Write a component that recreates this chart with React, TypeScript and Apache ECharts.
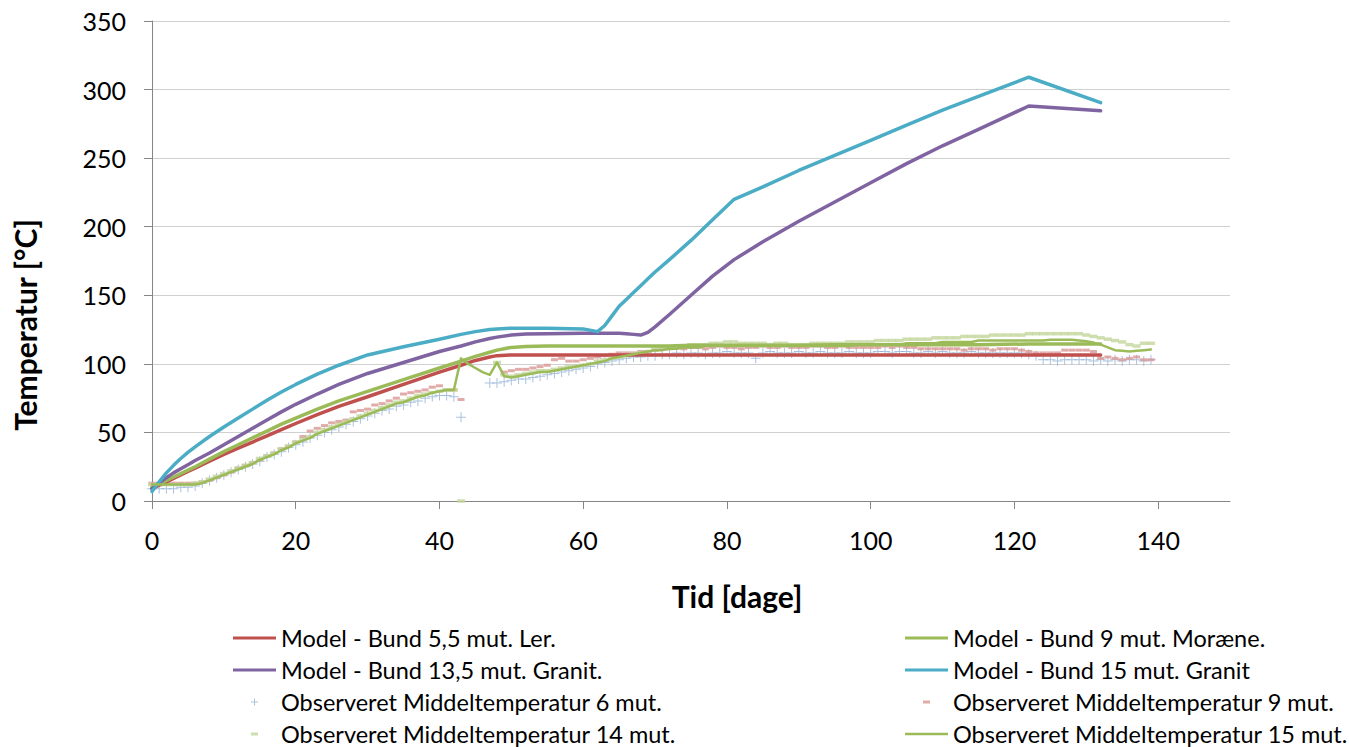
import React, { useEffect, useRef } from "react";
import * as echarts from "echarts";

const xTicks = [0, 20, 40, 60, 80, 100, 120, 140];

const seriesNames = [
  "Model - Bund 5,5 mut. Ler.",
  "Model - Bund 9 mut. Moræne.",
  "Model - Bund 13,5 mut. Granit.",
  "Model - Bund 15 mut. Granit",
  "Observeret Middeltemperatur 6 mut.",
  "Observeret Middeltemperatur 9 mut.",
  "Observeret Middeltemperatur 14 mut.",
  "Observeret Middeltemperatur 15 mut.",
];

const modelDays = [0, 1, 2, 3, 4, 5, 6, 8, 10, 12, 14, 16, 18, 20, 23, 26, 30, 35, 40, 43, 45, 47, 48, 50, 52, 55,
  60, 62, 63, 64, 65, 66, 67, 68, 69, 70, 72, 75, 78, 81, 85, 90, 95, 100, 105, 110, 115, 122, 132];

const modelLer55 = [9, 11.5, 14, 16.5, 19, 21.5, 24, 29, 34, 38.5, 43, 47.5, 52, 56.5, 63, 69, 76, 85, 94, 99, 102.5, 105, 106, 106.5, 106.5, 106.5,
  106.5, 106.5, 106.5, 106.5, 106.5, 106.5, 106.5, 106.5, 106.5, 106.5, 106.5, 106.5, 106.5, 106.5, 106.5, 106.5, 106.5, 106.5, 106.5, 106.5, 106.5, 106.5, 106.5];

const modelMoraene9 = [10, 12.5, 15, 17.5, 20, 22.5, 25, 30.5, 36, 41, 46, 51, 56, 60.5, 67, 73, 80, 88.5, 97, 102, 105.5, 108.5, 110, 112, 112.7, 113,
  113, 113, 113, 113, 113, 113, 113, 113, 113, 113, 113, 113.5, 113.5, 113.5, 113.5, 113.5, 114, 114, 114, 114, 114, 114.5, 114.5];

const modelGranit135 = [9, 13, 17, 20.5, 23.5, 26.5, 29.5, 35, 41, 47, 53, 59, 65, 70.5, 78, 85, 93, 101, 109, 113, 116, 118.5, 119.5, 121, 121.7, 122,
  122.3, 122.3, 122.3, 122.3, 122.3, 122, 121.5, 121, 123, 127, 136, 150, 164, 176, 189, 204, 218, 232, 246, 259, 271, 288, 284.5];

const modelGranit15 = [7, 14, 20.5, 26, 31, 35.5, 39.5, 47, 54, 60.5, 67, 73.5, 79.5, 85, 92.5, 99, 106.5, 112.5, 118, 121.5, 123.5, 125, 125.5, 126, 126, 126,
  125.5, 123.5, 128, 135, 142, 147, 152, 157, 162, 167, 176, 190, 205, 220, 229, 241, 252, 263, 274, 285, 295, 309, 290.5];

// observations, one value per day from day 0
const obs6 = [
  9, 9, 9, 9, 10, 10, 11, 13, 15, 17,
  19, 21, 23, 25, 27, 29, 32, 34, 36, 39,
  41, 43, 46, 48, 50, 52, 54, 56, 58, 60,
  62, 64, 66, 67, 69, 70, 72, 73, 75, 76,
  77, 77, 76, 61, null, null, null, 86, 86, 87,
  88, 89, 89, 90, 91, 92, 93, 94, 95, 96,
  97, 98, 100, 101, 102, 103, 104, 105, 105, 106,
  106, 107, 107, 108, 107, 108, 108, 107, 108, 108,
  109, 108, 108, 108, 104, 108, 109, 108, 108, 108,
  109, 108, 108, 109, 108, 108, 108, 109, 108, 108,
  108, 109, 109, 108, 109, 109, 108, 108, 109, 108,
  109, 108, 108, 108, 109, 108, 108, 108, 108, 108,
  108, 108, 107, 106, 103, 103, 102, 103, 103, 103,
  103, 102, 103, 102, 103, 102, 103, 103, 102, 103,
];

const obs9 = [
  13, 13, 13, 13, 13, 13, 13, 14, 15, 17,
  19, 21, 24, 26, 28, 30, 33, 35, 38, 40,
  43, 47, 51, 53, 55, 57, 58, 59, 65, 66,
  67, 70, 71, 73, 75, 78, 79, 80, 81, 83,
  84, 81, 81, 74, null, null, null, null, null, 94,
  95, 96, 96, 97, 98, 99, 103, 104, 102, 102,
  103, 104, 105, 106, 107, 108, 108, 108, 109, 109,
  110, 111, 111, 112, 111, 112, 112, 111, 112, 113,
  112, 112, 111, 112, 112, 113, 112, 112, 113, 112,
  112, 112, 113, 113, 112, 112, 113, 112, 112, 112,
  112, 112, 113, 112, 113, 112, 112, 111, 111, 111,
  111, 111, 111, 110, 111, 111, 111, 110, 111, 111,
  111, 110, 109, 108, 108, 108, 108, 110, 110, 110,
  110, 109, 104, 105, 104, 103, 104, 105, 103, 103,
];

const obs14 = [
  12, 12, 12, 12, 12, 12, 13, 14, 16, 18,
  20, 22, 24, 26, 28, 31, 33, 35, 38, 40,
  43, 45, 47, 50, 52, 54, 56, 58, 60, 62,
  64, 66, 68, 70, 72, 73, 75, 77, 78, 79,
  80, 81, 81, 0, null, null, null, null, 101, 92,
  91, 92, 93, 94, 95, 95, 96, 97, 98, 98,
  99, 100, 102, 103, 104, 105, 106, 107, 108, 109,
  111, 112, 112, 113, 113, 114, 114, 114, 115, 115,
  116, 116, 115, 115, 115, 115, 114, 115, 115, 114,
  114, 114, 115, 115, 115, 115, 115, 116, 116, 116,
  116, 117, 117, 117, 117, 118, 118, 118, 118, 119,
  119, 119, 119, 120, 120, 120, 120, 121, 121, 121,
  121, 121, 122, 122, 122, 122, 122, 122, 122, 122,
  121, 120, 119, 118, 117, 116, 114, 113, 115, 115,
];

const obs15 = [
  12, 12, 12, 12, 12, 12, 12, 13, 15, 17,
  19, 21, 23, 25, 27, 30, 32, 34, 37, 39,
  42, 44, 46, 49, 51, 53, 55, 57, 59, 61,
  63, 65, 67, 69, 71, 72, 74, 76, 77, 79,
  80, 81, 81, 104, 100, 97, 94, 92, 101, 91,
  90, 91, 92, 93, 94, 94, 95, 96, 97, 98,
  99, 100, 101, 102, 104, 105, 106, 107, 108, 109,
  110, 110, 111, 111, 112, 112, 112, 113, 113, 113,
  113, 113, 113, 113, 113, 113, 113, 113, 113, 113,
  113, 113, 113, 113, 113, 113, 113, 113, 114, 114,
  114, 114, 114, 114, 114, 115, 115, 115, 115, 115,
  116, 116, 116, 116, 116, 117, 117, 117, 117, 117,
  117, 117, 117, 117, 117, 117.5, 117.5, 117.5, 117.5, 117,
  116.5, 115.5, 114, 112, 110, 109.5, 109, 109.5, 110, 110.5,
];

const FONT = "Lato";
const plusSymbol = "path://M4.5,0h1v4.5h4.5v1h-4.5v4.5h-1v-4.5h-4.5v-1h4.5z";
const plusLegendIcon = "path://M0,0M43,14M18,6.5h3v-3h1v3h3v1h-3v3h-1v-3h-3z";
const dashLegendIcon = "path://M0,0M43,14M18,5.5h7v3h-7z";
const lineLegendIcon = "path://M0,0M43,14M0,5.5h43v3h-43z";
const thinLineLegendIcon = "path://M0,0M43,14M0,5.75h43v2.5h-43z";

function pairModel(ys: number[]) {
  return modelDays.map((d, i) => [d, ys[i]]);
}
function pairObs(ys: (number | null)[]) {
  return ys.map((v, i) => [i, v === null ? "-" : v]);
}

export default function App() {
  const ref = useRef<HTMLDivElement>(null);
  useEffect(() => {
    document.body.style.margin = "0";
    const chart = echarts.init(ref.current!, null, { renderer: "svg" });
    const lineSeries = (name: string, data: any[], color: string, width: number) => ({
      name,
      type: "line",
      data,
      symbol: "none",
      showSymbol: false,
      lineStyle: { color, width, cap: "round", join: "round" },
      itemStyle: { color },
      connectNulls: false,
    });
    const legendText = { fontFamily: FONT, fontSize: 23.5, color: "#000", lineHeight: 24 };
    const legendBase = {
      top: 626,
      height: 200,
      orient: "vertical",
      itemWidth: 43,
      itemHeight: 14,
      itemGap: 8,
      padding: 0,
      selectedMode: false,
      textStyle: legendText,
    };
    chart.setOption({
      animation: false,
      backgroundColor: "#fff",
      textStyle: { fontFamily: FONT },
      grid: { left: 152, right: 119, top: 21, bottom: 246, containLabel: false },
      xAxis: {
        type: "value",
        min: 0,
        max: 150,
        interval: 20,
        name: "Tid [dage]",
        nameLocation: "middle",
        nameGap: 80,
        nameTextStyle: { fontFamily: FONT, fontSize: 30, fontWeight: "bold", color: "#000", padding: [0, 0, 0, 92] },
        axisLine: { show: true, onZero: false, lineStyle: { color: "#868686", width: 1 } },
        axisTick: { show: true, length: 8, customValues: xTicks, lineStyle: { color: "#868686" } },
        axisLabel: { customValues: xTicks, fontFamily: FONT, fontSize: 25, color: "#000", margin: 26 },
        splitLine: { show: false },
      },
      yAxis: {
        type: "value",
        min: 0,
        max: 350,
        interval: 50,
        name: "Temperatur [°C]",
        nameLocation: "middle",
        nameGap: 112,
        nameRotate: 90,
        nameTextStyle: { fontFamily: FONT, fontSize: 30, fontWeight: "bold", color: "#000", padding: [0, 128, 0, 0] },
        axisLine: { show: true, lineStyle: { color: "#868686", width: 1 } },
        axisTick: { show: true, length: 8, lineStyle: { color: "#868686" } },
        axisLabel: { fontFamily: FONT, fontSize: 25, color: "#000", margin: 26 },
        splitLine: { show: true, lineStyle: { color: "#D0D0D0", width: 1 } },
      },
      legend: [
        {
          ...legendBase,
          left: 233,
          data: [
            { name: seriesNames[0], icon: lineLegendIcon },
            { name: seriesNames[2], icon: lineLegendIcon },
            { name: seriesNames[4], icon: plusLegendIcon },
            { name: seriesNames[6], icon: dashLegendIcon },
          ],
        },
        {
          ...legendBase,
          left: 905,
          data: [
            { name: seriesNames[1], icon: lineLegendIcon },
            { name: seriesNames[3], icon: lineLegendIcon },
            { name: seriesNames[5], icon: dashLegendIcon },
            { name: seriesNames[7], icon: thinLineLegendIcon },
          ],
        },
      ],
      series: [
        lineSeries(seriesNames[0], pairModel(modelLer55), "#C0504D", 3.5),
        lineSeries(seriesNames[1], pairModel(modelMoraene9), "#9BBB59", 3.5),
        lineSeries(seriesNames[2], pairModel(modelGranit135), "#8064A2", 3.5),
        lineSeries(seriesNames[3], pairModel(modelGranit15), "#4BACC6", 3.5),
        {
          name: seriesNames[4],
          type: "scatter",
          data: pairObs(obs6),
          symbol: plusSymbol,
          symbolSize: 10,
          itemStyle: { color: "#95B3D7" },
        },
        {
          name: seriesNames[5],
          type: "scatter",
          data: pairObs(obs9),
          symbol: "rect",
          symbolSize: [7, 3],
          itemStyle: { color: "#D99694" },
        },
        {
          name: seriesNames[6],
          type: "scatter",
          data: pairObs(obs14),
          symbol: "rect",
          symbolSize: [8, 3.5],
          itemStyle: { color: "#C3D69B" },
        },
        lineSeries(seriesNames[7], pairObs(obs15), "#9BBB59", 2.5),
      ],
    });
    return () => chart.dispose();
  }, []);
  return <div ref={ref} style={{ width: 1349, height: 747 }} />;
}
